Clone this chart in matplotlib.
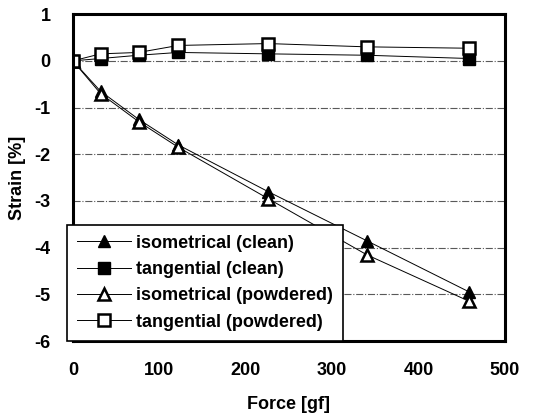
import numpy as np
import matplotlib
matplotlib.use('Agg')
import matplotlib.pyplot as plt

plt.rcParams['font.family'] = ['Liberation Sans', 'DejaVu Sans']
plt.rcParams['font.weight'] = 'bold'
plt.rcParams['axes.labelweight'] = 'bold'
plt.rcParams['axes.unicode_minus'] = False

force = [0, 32, 76, 122, 226, 340, 459]
iso_clean = [0, -0.65, -1.25, -1.8, -2.8, -3.85, -4.95]
tan_clean = [0, 0.05, 0.12, 0.18, 0.15, 0.12, 0.05]
iso_powder = [0, -0.7, -1.3, -1.85, -2.95, -4.15, -5.15]
tan_powder = [0, 0.15, 0.18, 0.33, 0.37, 0.3, 0.27]

labels = ['isometrical (clean)', 'tangential (clean)',
          'isometrical (powdered)', 'tangential (powdered)']

fig = plt.figure(figsize=(5.4, 4.16), dpi=100)
ax = fig.add_axes([0.135, 0.18, 0.8, 0.786])

for y in range(-5, 1):
    ax.axhline(y, color='0.35', lw=0.8, ls='-.', zorder=0)

ax.plot(force, iso_clean, color='black', lw=0.7, marker='^', ms=9,
        mfc='black', mec='black', label=labels[0])
ax.plot(force, tan_clean, color='black', lw=0.7, marker='s', ms=9,
        mfc='black', mec='black', label=labels[1])
ax.plot(force, iso_powder, color='black', lw=0.7, marker='^', ms=9,
        mfc='white', mec='black', mew=1.8, label=labels[2])
ax.plot(force, tan_powder, color='black', lw=0.7, marker='s', ms=9,
        mfc='white', mec='black', mew=1.8, label=labels[3])

ax.set_xlim(0, 500)
ax.set_ylim(-6, 1)
ax.set_xticks([0, 100, 200, 300, 400, 500])
ax.set_yticks([-6, -5, -4, -3, -2, -1, 0, 1])
ax.tick_params(axis='x', length=0, pad=15, labelsize=13)
ax.tick_params(axis='y', length=0, pad=16, labelsize=13)
for s in ax.spines.values():
    s.set_linewidth(2.2)
ax.set_xlabel('Force [gf]', fontsize=13, labelpad=12)
ax.set_ylabel('Strain [%]', fontsize=13, labelpad=6)

leg = ax.legend(loc='lower left', bbox_to_anchor=(0.124, 0.181),
                bbox_transform=fig.transFigure, fancybox=False,
                edgecolor='black', framealpha=1, fontsize=13,
                handlelength=3.0, borderpad=0.55, labelspacing=0.52,
                handletextpad=0.3, borderaxespad=0)
leg.get_frame().set_linewidth(1.2)

fig.savefig('out.png', dpi=100)
